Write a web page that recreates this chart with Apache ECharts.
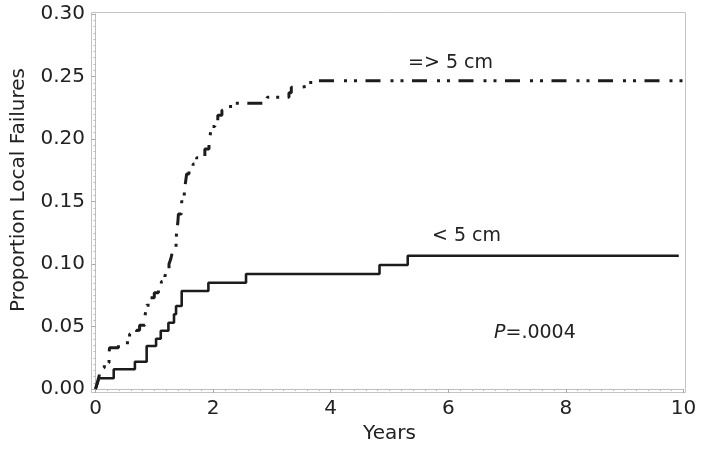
<!DOCTYPE html>
<html>
<head>
<meta charset="utf-8">
<script src="https://cdn.jsdelivr.net/npm/echarts@6/dist/echarts.min.js"></script>
<style>
html,body{margin:0;padding:0;background:#fff;}
#c{width:704px;height:449px;}
</style>
</head>
<body>
<div id="c"></div>
<script>
// Small tumours (< 5 cm): event times (years) and cumulative proportion of local failures
const timesSmall = [0, 0.03, 0.06, 0.31, 0.67, 0.87, 1.03, 1.11, 1.24, 1.335, 1.37, 1.466, 1.92, 2.56, 4.83, 5.31, 9.92];
const valsSmall  = [0, 0.004, 0.0086, 0.0158, 0.0218, 0.0344, 0.0402, 0.0466, 0.053, 0.0598, 0.0664, 0.0784, 0.085, 0.092, 0.0992, 0.1066, 0.1066];

// Large tumours (=> 5 cm)
const timesLarge = [0, 0.03, 0.06, 0.09, 0.15, 0.23, 0.24, 0.39, 0.58, 0.70, 0.75, 0.84, 0.87, 0.93, 1.00, 1.07, 1.12, 1.18, 1.21, 1.25, 1.28, 1.30, 1.32, 1.37, 1.38, 1.40, 1.41, 1.46, 1.47, 1.51, 1.53, 1.55, 1.59, 1.66, 1.72, 1.86, 1.93, 1.95, 1.97, 2.03, 2.08, 2.15, 2.25, 2.34, 2.84, 2.92, 3.29, 3.33, 3.50, 3.66, 9.99];
const valsLarge  = [0, 0.005, 0.010, 0.017, 0.021, 0.029, 0.033, 0.037, 0.044, 0.047, 0.051, 0.058, 0.067, 0.073, 0.077, 0.081, 0.086, 0.090, 0.095, 0.100, 0.104, 0.108, 0.113, 0.119, 0.126, 0.133, 0.140, 0.145, 0.152, 0.158, 0.165, 0.172, 0.175, 0.180, 0.185, 0.192, 0.197, 0.203, 0.210, 0.215, 0.219, 0.223, 0.226, 0.2286, 0.2305, 0.2335, 0.2370, 0.2415, 0.2425, 0.2466, 0.2466];

const xTickLabels = ['0', '2', '4', '6', '8', '10'];
const yTickLabels = ['0.00', '0.05', '0.10', '0.15', '0.20', '0.25', '0.30'];

const labelLarge = '=> 5 cm';
const labelSmall = '< 5 cm';
const pValue = '.0004';

const FONT = 'DejaVu Sans';
const pair = (t, v) => t.map((x, i) => [x, v[i]]);

const chart = echarts.init(document.getElementById('c'), null, {renderer: 'canvas'});
chart.setOption({
  animation: false,
  backgroundColor: '#fff',
  grid: {left: 95.5, right: 20.5, top: 14, bottom: 60},
  xAxis: {
    type: 'value', min: 0, max: 10, interval: 2, offset: 4,
    name: 'Years', nameLocation: 'middle', nameGap: 30,
    nameTextStyle: {fontFamily: FONT, fontSize: 20, color: '#222'},
    axisLine: {show: true, lineStyle: {color: '#bdbdbd', width: 1}},
    axisTick: {show: true, length: 4, lineStyle: {color: '#aaa'}},
    minorTick: {show: true, splitNumber: 10, length: 2, lineStyle: {color: '#bbb'}},
    splitLine: {show: false},
    axisLabel: {margin: 6, fontFamily: FONT, fontSize: 20, color: '#222',
      formatter: (v) => xTickLabels[Math.round(v / 2)]}
  },
  yAxis: {
    type: 'value', min: 0, max: 0.30, interval: 0.05, offset: 4.5,
    name: 'Proportion Local Failures', nameLocation: 'middle', nameGap: 62,
    nameTextStyle: {fontFamily: FONT, fontSize: 20, color: '#222', padding: [0, 0, 0, 23]},
    axisLine: {show: true, lineStyle: {color: '#bdbdbd', width: 1}},
    axisTick: {show: true, length: 4, lineStyle: {color: '#aaa'}},
    minorTick: {show: true, splitNumber: 10, length: 2, lineStyle: {color: '#bbb'}},
    splitLine: {show: false},
    axisLabel: {margin: 6, fontFamily: FONT, fontSize: 20, color: '#222',
      formatter: (v) => yTickLabels[Math.round(v / 0.05)]}
  },
  graphic: [
    {type: 'rect', z: -1, silent: true,
     shape: {x: 91.5, y: 12.5, width: 594, height: 380},
     style: {fill: 'none', stroke: '#c4c4c4', lineWidth: 1}},
    {type: 'text', left: 408, top: 54,
     style: {text: labelLarge, font: '19px "DejaVu Sans"', fill: '#222'}},
    {type: 'text', left: 432, top: 227,
     style: {text: labelSmall, font: '19px "DejaVu Sans"', fill: '#222'}},
    {type: 'text', left: 494, top: 324,
     style: {text: '{i|P}=' + pValue, font: '19px "DejaVu Sans"', fill: '#222',
       rich: {i: {fontStyle: 'italic', fontFamily: FONT, fontSize: 19, fill: '#222'}}}}
  ],
  series: [
    {
      name: labelLarge, type: 'line', step: 'end', showSymbol: false, symbol: 'none',
      data: pair(timesLarge, valsLarge),
      lineStyle: {color: '#1c1c1c', width: 3, type: [15, 10, 3, 7, 3, 8.5], cap: 'butt'}
    },
    {
      name: labelSmall, type: 'line', step: 'end', showSymbol: false, symbol: 'none',
      data: pair(timesSmall, valsSmall),
      lineStyle: {color: '#1c1c1c', width: 2.6, type: 'solid'}
    }
  ]
});
</script>
</body>
</html>
